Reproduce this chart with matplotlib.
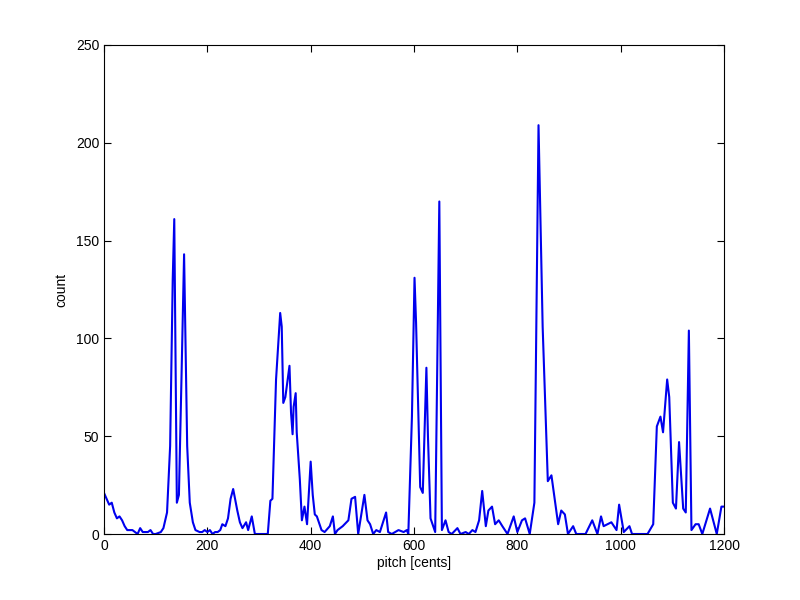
import matplotlib
matplotlib.use('Agg')
import matplotlib.pyplot as plt

# pitch histogram vertices
pitch = [0, 5, 10, 15, 20, 25, 30, 35, 40, 45, 50, 55, 60, 65, 70, 75, 80, 85, 90, 95,
         100, 110, 115, 122, 128, 133, 136, 141, 145, 150, 155, 161, 166, 172, 177, 185,
         190, 195, 200, 205, 210, 215, 220, 225, 229, 235, 240, 245, 250, 258, 263, 268,
         275, 279, 286, 292, 317, 322, 326, 333, 341, 344, 347, 351, 359, 362, 365, 367,
         371, 373, 379, 383, 388, 393, 400, 404, 408, 412, 421, 427, 437, 443, 447, 452,
         462, 473, 479, 486, 492, 504, 510, 515, 521, 527, 534, 546, 550, 557, 570, 580,
         586, 589, 596, 601, 604, 612, 617, 624, 627, 632, 641, 649, 654, 661, 667, 673,
         684, 690, 700, 706, 713, 719, 726, 732, 739, 744, 751, 757, 764, 771, 781, 793,
         800, 809, 815, 824, 833, 836, 841, 849, 859, 866, 879, 885, 892, 898, 908, 914,
         932, 945, 955, 962, 967, 982, 992, 997, 1006, 1017, 1022, 1052, 1063, 1070, 1077,
         1082, 1090, 1094, 1101, 1107, 1113, 1121, 1126, 1132, 1137, 1145, 1151, 1158,
         1173, 1186, 1195, 1199]
count = [21, 18, 15, 16, 11, 8, 9, 7, 4, 2, 2, 2, 1, 0, 3, 1, 1, 1, 2, 0,
         0, 1, 3, 11, 45, 130, 161, 16, 20, 80, 143, 45, 16, 6, 2, 1,
         1, 2, 1, 2, 0, 1, 1, 2, 5, 4, 8, 18, 23, 12, 6, 3,
         6, 2, 9, 0, 0, 17, 18, 79, 113, 106, 67, 70, 86, 62, 51, 65,
         72, 52, 28, 7, 14, 5, 37, 20, 10, 9, 2, 1, 4, 9, 0, 2,
         4, 7, 18, 19, 0, 20, 7, 5, 0, 2, 1, 11, 1, 0, 2, 1,
         2, 0, 60, 131, 108, 24, 21, 85, 50, 8, 1, 170, 2, 7, 1, 0,
         3, 0, 1, 0, 2, 1, 7, 22, 4, 12, 14, 5, 7, 4, 0, 9,
         1, 7, 8, 0, 16, 89, 209, 106, 27, 30, 5, 12, 10, 0, 4, 0,
         0, 7, 0, 9, 4, 6, 2, 15, 1, 4, 0, 0, 5, 55, 60,
         52, 79, 70, 16, 13, 47, 13, 11, 104, 2, 5, 5, 0,
         13, 0, 14, 14]

plt.rcParams['font.family'] = ['Liberation Sans', 'DejaVu Sans']
fig = plt.figure(figsize=(8, 6), dpi=100)
ax = fig.add_axes([0.13, 0.11, 0.775, 0.815])
ax.plot(pitch, count, color='#0000ee', linewidth=1.5)

ax.set_xlim(0, 1200)
ax.set_ylim(0, 250)
ax.set_xticks([0, 200, 400, 600, 800, 1000, 1200])
ax.set_yticks([0, 50, 100, 150, 200, 250])
ax.tick_params(direction='in', top=True, right=True, length=5, labelsize=10)
for s in ax.spines.values():
    s.set_linewidth(0.8)
ax.set_xlabel('pitch [cents]', fontsize=10, labelpad=2)
ax.set_ylabel('count', fontsize=10, labelpad=5)

fig.savefig('out.png', dpi=100)
